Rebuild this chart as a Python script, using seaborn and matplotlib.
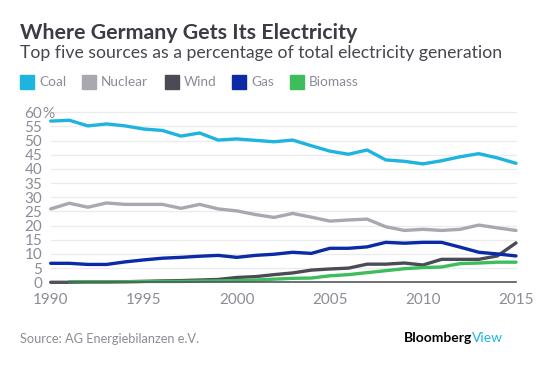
import numpy as np
import pandas as pd
import seaborn as sns
from matplotlib import pyplot as plt
import matplotlib.patches as mpatches

sns.set_theme(style="white")
plt.rcParams['font.family'] = ['Lato', 'DejaVu Sans']

years = list(range(1990, 2016))
coal = [56.9, 57.2, 55.2, 55.9, 55.2, 54.1, 53.6, 51.6, 52.7, 50.2, 50.6, 50.1, 49.6,
        50.2, 48.2, 46.3, 45.2, 46.7, 43.2, 42.7, 41.8, 42.9, 44.3, 45.4, 43.9, 42.0]
nuclear = [25.9, 27.9, 26.5, 28.0, 27.5, 27.5, 27.5, 26.1, 27.5, 25.9, 25.2, 23.9, 22.9,
           24.3, 23.0, 21.6, 22.0, 22.3, 19.6, 18.3, 18.7, 18.3, 18.7, 20.2, 19.2, 18.3]
wind = [0.0, 0.0, 0.1, 0.1, 0.2, 0.3, 0.5, 0.6, 0.8, 1.0, 1.7, 2.0, 2.7,
        3.3, 4.3, 4.7, 5.0, 6.4, 6.4, 6.8, 6.1, 8.1, 8.1, 8.1, 9.3, 13.9]
gas = [6.7, 6.7, 6.3, 6.3, 7.2, 7.9, 8.5, 8.8, 9.2, 9.5, 8.8, 9.5, 9.9,
       10.6, 10.2, 12.0, 12.0, 12.5, 14.1, 13.8, 14.1, 14.1, 12.4, 10.6, 10.0, 9.3]
biomass = [np.nan, 0.2, 0.2, 0.2, 0.2, 0.3, 0.3, 0.3, 0.4, 0.5, 0.6, 0.8, 1.1,
           1.4, 1.5, 2.3, 2.7, 3.4, 4.1, 4.8, 5.2, 5.4, 6.6, 6.8, 7.1, 7.1]

sources = ['Coal', 'Nuclear', 'Wind', 'Gas', 'Biomass']
colors = ['#1eb4df', '#a8a8b0', '#4b4b55', '#0b2aa6', '#3dbd5b']

df = pd.DataFrame({'year': years, 'Coal': coal, 'Nuclear': nuclear, 'Wind': wind,
                   'Gas': gas, 'Biomass': biomass})
long = df.melt(id_vars='year', var_name='source', value_name='share')

fig = plt.figure(figsize=(5.57, 3.65), dpi=100)
ax = fig.add_axes([0.091, 0.2266, 0.8354, 0.4657])

# grid
for v in range(5, 65, 5):
    ax.axhline(v, color='#ebebee', lw=0.9, zorder=0)

sns.lineplot(data=long, x='year', y='share', hue='source', hue_order=sources,
             palette=colors, linewidth=2.4, legend=False, ax=ax, zorder=3)
for ln in ax.lines:
    ln.set_clip_on(False)
    ln.set_solid_joinstyle('round')

ax.set_xlim(1990, 2015)
ax.set_ylim(0, 60)
ax.set_xticks(range(1990, 2016, 5))
ax.set_yticks(range(0, 65, 5))
ax.set_xlabel('')
ax.set_ylabel('')
for s in ['top', 'right', 'left']:
    ax.spines[s].set_visible(False)
ax.spines['bottom'].set_color('#55555f')
ax.spines['bottom'].set_linewidth(1.2)
ax.spines['bottom'].set_zorder(4)
ax.tick_params(axis='x', direction='out', length=4, width=1.2, color='#55555f',
               labelsize=11, labelcolor='#8c8c96', pad=4)
ax.tick_params(axis='y', length=0, labelsize=11, labelcolor='#8c8c96', pad=6.2)
ax.text(-0.0185, 60, '%', transform=ax.get_yaxis_transform(), ha='left',
        va='center_baseline', fontsize=11, color='#8c8c96')

fig.text(0.036, 0.893, 'Where Germany Gets Its Electricity', fontsize=15.4,
         fontweight='bold', color='#3c3c46')
fig.text(0.036, 0.841, 'Top five sources as a percentage of total electricity generation',
         fontsize=12.7, color='#46464e')

leg_x = [20, 82, 165, 232, 290]
for x, name, c in zip(leg_x, sources, colors):
    fig.patches.append(mpatches.Rectangle((x / 557, 1 - 89 / 365), 14 / 557, 14 / 365,
                                          transform=fig.transFigure, color=c))
    fig.text((x + 19) / 557, 1 - 86 / 365, name, fontsize=9.8, color='#8c8c96')

fig.text(0.036, 0.061, 'Source: AG Energiebilanzen e.V.', fontsize=9.2, color='#8c8c96')
t = fig.text(0.725, 0.064, 'Bloomberg', fontsize=10, fontweight='bold', color='#000000')
fig.canvas.draw()
bb = t.get_window_extent()
fig.text(bb.x1 / 557, 0.064, 'View', fontsize=10, color='#1eb4df')

fig.savefig('out.png', dpi=100)
